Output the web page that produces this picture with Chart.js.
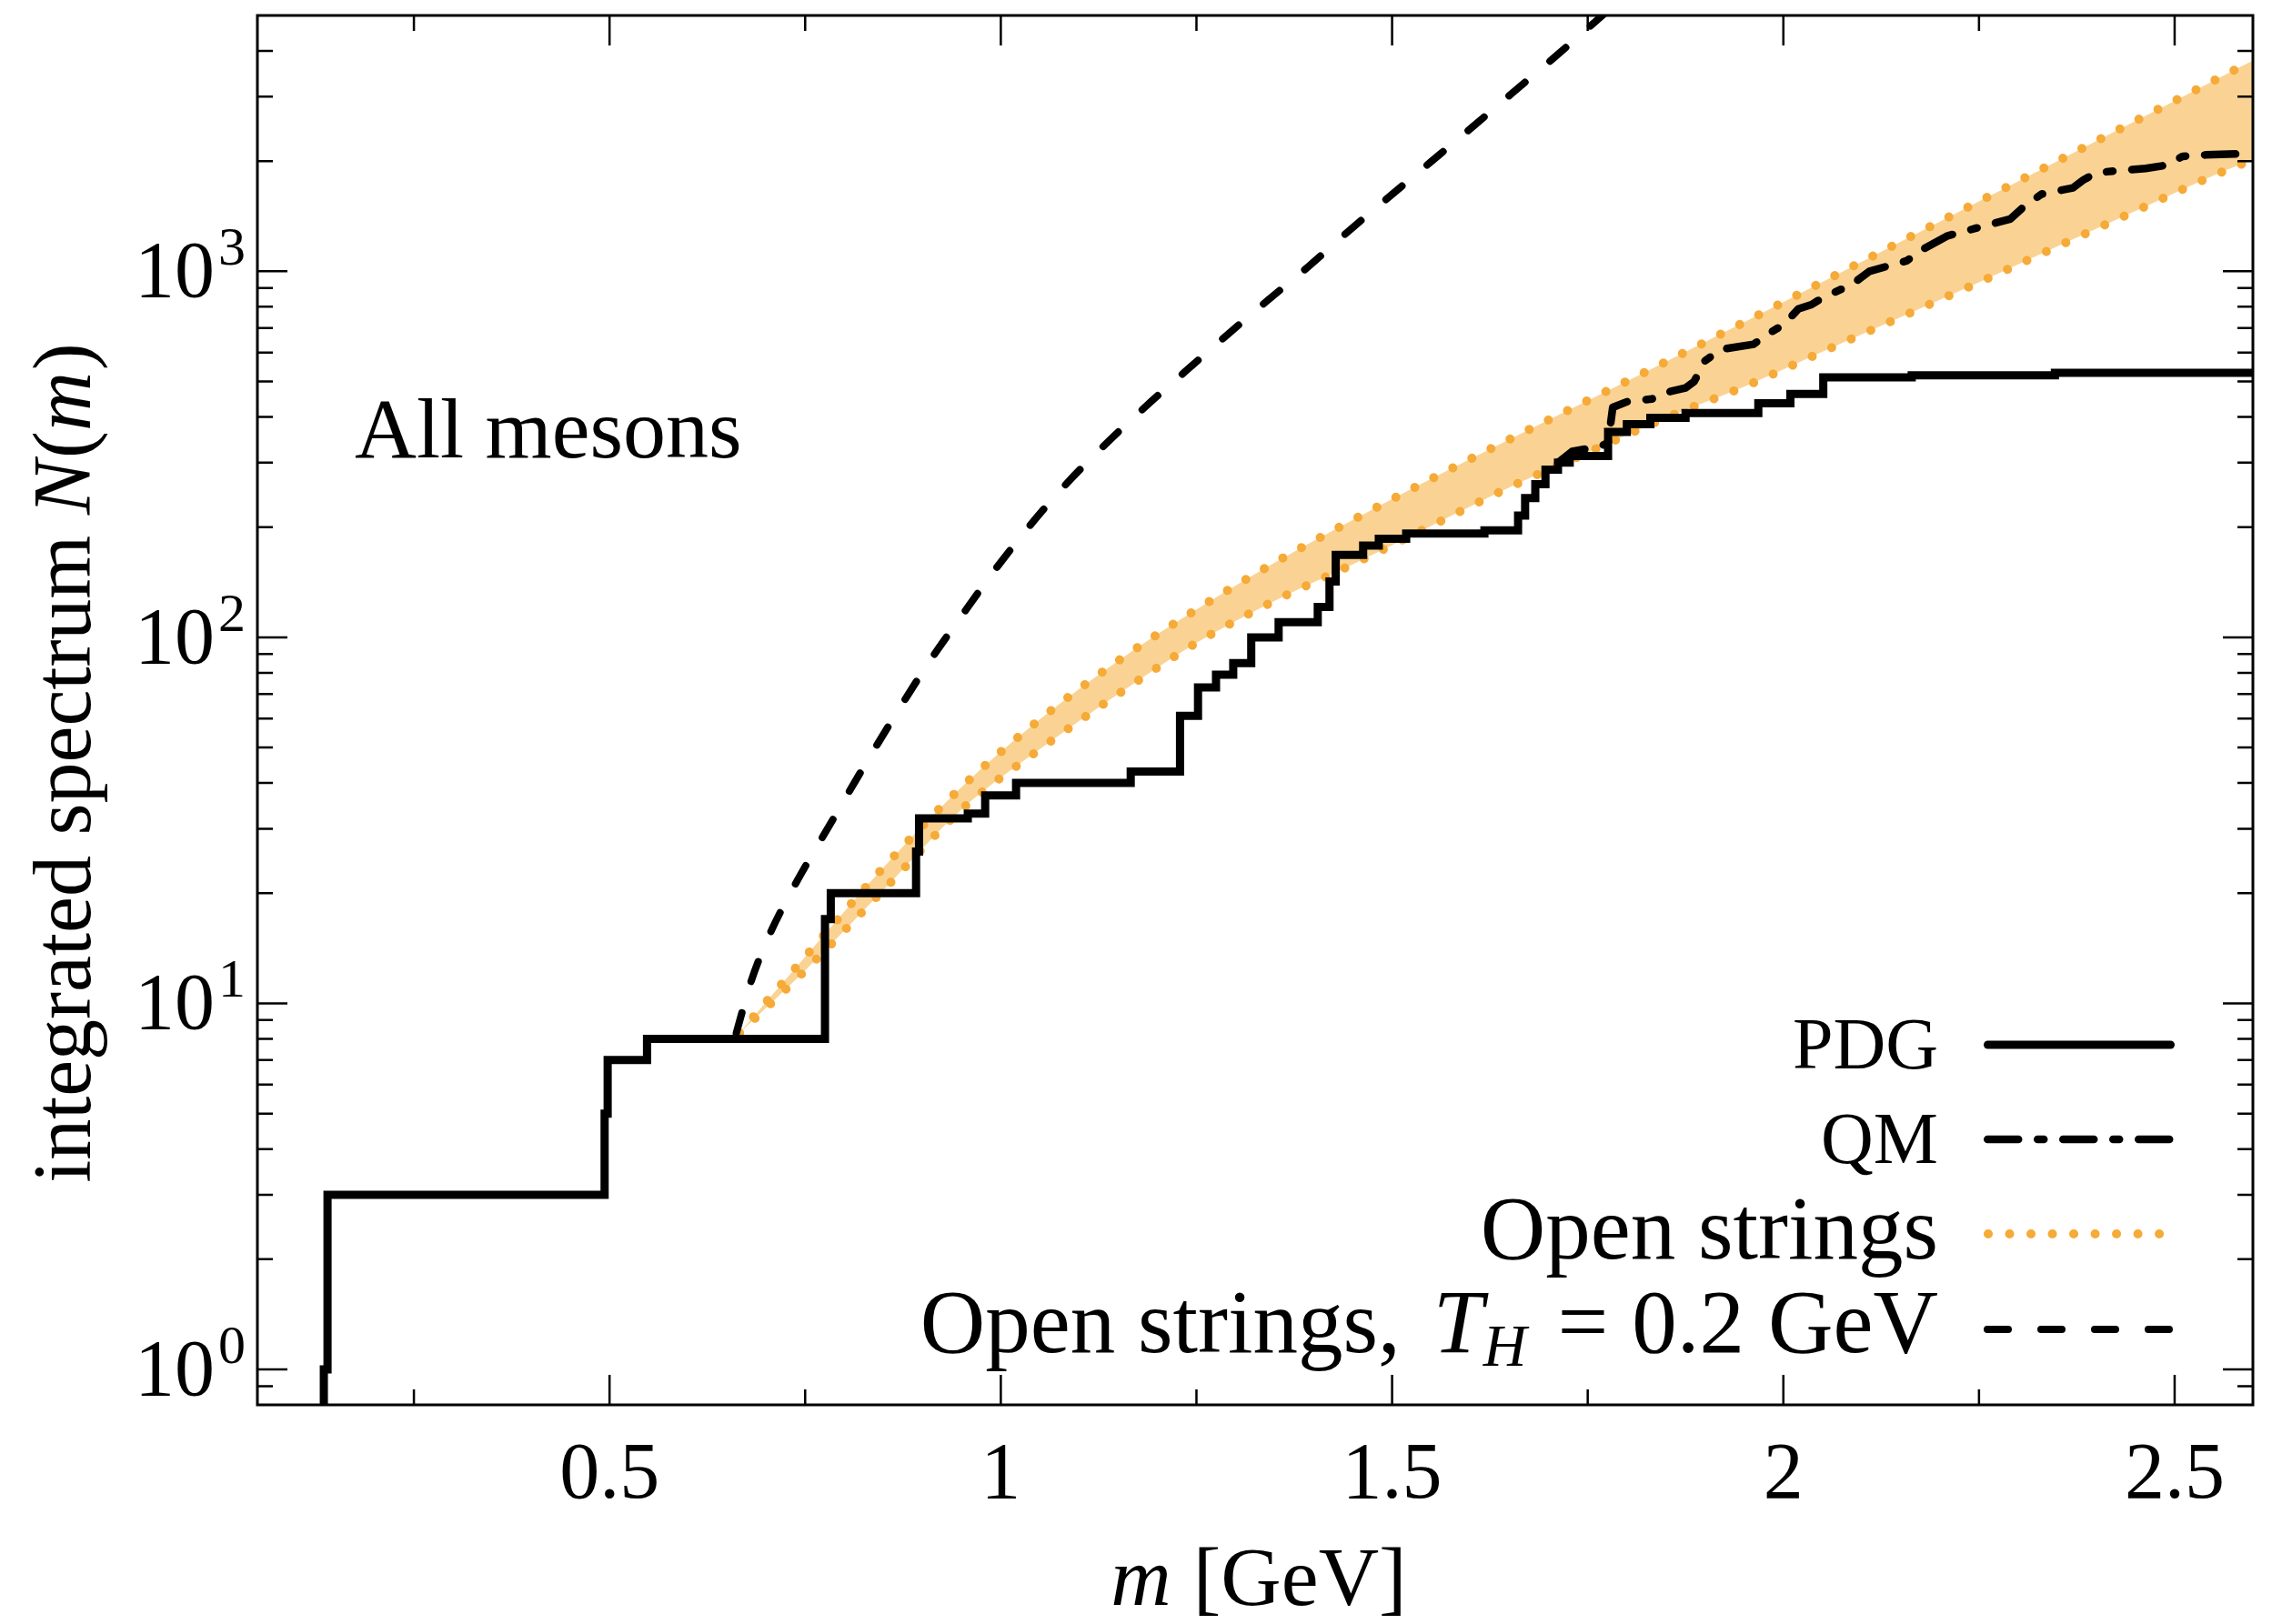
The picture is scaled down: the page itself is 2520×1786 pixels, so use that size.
<!DOCTYPE html>
<html>
<head>
<meta charset="utf-8">
<script src="https://cdn.jsdelivr.net/npm/chart.js@4.4.1/dist/chart.umd.min.js"></script>
<style>
  html, body { margin: 0; padding: 0; background: #ffffff; }
  #wrap { width: 2520px; height: 1786px; position: relative; }
</style>
</head>
<body>
<div id="wrap"><canvas id="c" width="2520" height="1786"></canvas></div>
<script>
// ---- axes ----
const massRange = [0.05, 2.6];          // GeV
const countRange = [0.8, 5000];
const xMajorTicks = [0.5, 1, 1.5, 2, 2.5];
const xTickLabels = ['0.5', '1', '1.5', '2', '2.5'];
const xMinorTicks = [0.25, 0.75, 1.25, 1.75, 2.25];
const yMajorTicks = [1, 10, 100, 1000];
const yTickExponents = ['0', '1', '2', '3'];
const yMinorMantissas = [2, 3, 4, 5, 6, 7, 8, 9];

// ---- PDG: cumulative number of states (value holds from each mass upward) ----
const pdgMass  = [0.1349, 0.1396, 0.4937, 0.4976, 0.5479, 0.7753, 0.7827, 0.8917, 0.8955, 0.9578,
                  0.980, 1.0195, 1.166, 1.229, 1.252, 1.275, 1.297, 1.320, 1.355, 1.405,
                  1.420, 1.428, 1.463, 1.483, 1.518, 1.618, 1.661, 1.670, 1.683, 1.696,
                  1.712, 1.727, 1.776, 1.800, 1.830, 1.875, 1.968, 2.009, 2.051, 2.164,
                  2.347, 2.600];
const pdgCount = [1, 3, 5, 7, 8, 17, 20, 26, 32, 33,
                  37, 40, 43, 61, 73, 79, 85, 100, 110, 121,
                  142, 168, 178, 186, 192, 196, 215, 240, 262, 287,
                  300, 313, 364, 382, 398, 410, 436, 462, 513, 520,
                  528, 528];

// ---- quark model ----
const qmMass  = [1.712, 1.730, 1.765, 1.776, 1.782, 1.800, 1.832, 1.856, 1.875, 1.886,
                 1.900, 1.921, 1.962, 1.981, 2.001, 2.019, 2.036, 2.051, 2.087, 2.110,
                 2.158, 2.176, 2.210, 2.250, 2.290, 2.307, 2.330, 2.370, 2.383, 2.400,
                 2.440, 2.463, 2.490, 2.510, 2.540, 2.585, 2.600];
const qmCount = [300, 322, 332, 340, 425, 440, 448, 470, 480, 500,
                 570, 612, 632, 676, 716, 789, 811, 849, 919, 1000,
                 1069, 1142, 1250, 1318, 1390, 1500, 1625, 1690, 1774, 1860,
                 1893, 1910, 1950, 2061, 2080, 2095, 2143];

// ---- open strings: band edges ----
const bandMass  = [0.666, 0.75, 0.85, 0.95, 1.05, 1.15, 1.25, 1.35, 1.45, 1.55,
                   1.65, 1.75, 1.85, 1.95, 2.05, 2.15, 2.25, 2.35, 2.45, 2.55, 2.60];
const bandUpper = [8.3, 13.4, 23.5, 39.0, 59.7, 86.3, 119.1, 160.0, 209.4, 271.0,
                   347.5, 443.6, 566.2, 726.1, 935.4, 1205, 1552, 2000, 2576, 3319, 3767];
const bandLower = [8.3, 12.3, 20.4, 33.9, 49.5, 70.0, 96.6, 125.9, 158.5, 201.8,
                   257, 320, 398, 484, 603, 750, 933, 1169, 1462, 1828, 2018];

// ---- open strings with T_H = 0.2 GeV ----
const hagMass  = [0.662, 0.681, 0.705, 0.736, 0.782, 0.840, 0.906, 0.952, 0.991, 1.037,
                  1.084, 1.130, 1.185, 1.235, 1.286, 1.339, 1.393, 1.442, 1.496, 1.549,
                  1.603, 1.653, 1.706, 1.765, 1.790];
const hagCount = [8.3, 11.5, 15.5, 20.9, 30.9, 50.1, 84.1, 116.1, 151.4, 201.8,
                  263, 331, 427, 531, 661, 826, 1030, 1274, 1596, 1986,
                  2483, 3062, 3819, 4920, 5495];

// ---- styling ----
const SERIF = '"Liberation Serif", "DejaVu Serif", serif';
const dotColor = '#F6AA37';
const bandFill = '#FAD394';

const toPoints = (xs, ys) => xs.map((x, i) => ({ x: x, y: ys[i] }));

function fontStr(size, italic) {
  return (italic ? 'italic ' : '') + size + 'px ' + SERIF;
}

// draws a run of text pieces; align 'left' | 'right' | 'center'
function drawRun(ctx, parts, x, y, align) {
  let total = 0;
  parts.forEach((p, i) => {
    ctx.font = fontStr(p.size, p.italic);
    p.w = ctx.measureText(p.t).width;
    total += p.w + (i < parts.length - 1 ? (p.gap || 0) : 0);
  });
  let cx = align === 'right' ? x - total : align === 'center' ? x - total / 2 : x;
  parts.forEach(p => {
    ctx.font = fontStr(p.size, p.italic);
    ctx.fillText(p.t, cx, y + (p.dy || 0));
    cx += p.w + (p.gap || 0);
  });
}

const decorations = {
  id: 'decorations',
  afterDraw(chart) {
    const { ctx, chartArea: a, scales } = chart;
    const xs = scales.x, ys = scales.y;
    ctx.save();
    ctx.strokeStyle = '#000';
    ctx.fillStyle = '#000';
    ctx.lineCap = 'butt';

    // inward ticks on all four sides
    ctx.lineWidth = 2.5;
    ctx.beginPath();
    const xTick = (v, len) => {
      const p = xs.getPixelForValue(v);
      ctx.moveTo(p, a.bottom); ctx.lineTo(p, a.bottom - len);
      ctx.moveTo(p, a.top);    ctx.lineTo(p, a.top + len);
    };
    const yTick = (v, len) => {
      const p = ys.getPixelForValue(v);
      ctx.moveTo(a.left, p);  ctx.lineTo(a.left + len, p);
      ctx.moveTo(a.right, p); ctx.lineTo(a.right - len, p);
    };
    xMajorTicks.forEach(v => xTick(v, 33));
    xMinorTicks.forEach(v => xTick(v, 17));
    yMajorTicks.forEach(v => yTick(v, 33));
    [0.1].concat(yMajorTicks).forEach(d => {
      yMinorMantissas.forEach(k => {
        const v = k * d;
        if (v > countRange[0] * 1.001 && v < countRange[1] * 0.999) yTick(v, 17);
      });
    });
    ctx.stroke();

    // frame
    ctx.lineWidth = 3;
    ctx.strokeRect(a.left, a.top, a.right - a.left, a.bottom - a.top);

    // x tick labels
    ctx.textBaseline = 'alphabetic';
    ctx.textAlign = 'center';
    ctx.font = fontStr(88, false);
    xMajorTicks.forEach((v, i) => {
      ctx.fillText(xTickLabels[i], xs.getPixelForValue(v), a.bottom + 102);
    });

    // y tick labels: 10^n
    ctx.textAlign = 'left';
    yMajorTicks.forEach((v, i) => {
      const p = ys.getPixelForValue(v);
      ctx.font = fontStr(60, false);
      const ew = ctx.measureText(yTickExponents[i]).width;
      const expLeft = a.left - 13 - ew;
      ctx.fillText(yTickExponents[i], expLeft, p - 7);
      ctx.font = fontStr(88, false);
      const bw = ctx.measureText('10').width;
      ctx.fillText('10', expLeft - 4 - bw, p + 28);
    });

    // x title
    drawRun(ctx, [
      { t: 'm', size: 92, italic: true, gap: 24 },
      { t: '[GeV]', size: 92 }
    ], (a.left + a.right) / 2 + 4, 1765, 'center');

    // y title (rotated)
    ctx.save();
    ctx.translate(99, 839);
    ctx.rotate(-Math.PI / 2);
    drawRun(ctx, [
      { t: 'integrated spectrum ', size: 90 },
      { t: 'N', size: 90, italic: true, gap: 2 },
      { t: '(', size: 90 },
      { t: 'm', size: 90, italic: true, gap: 2 },
      { t: ')', size: 90 }
    ], 0, 0, 'center');
    ctx.restore();

    // panel caption
    drawRun(ctx, [{ t: 'All mesons', size: 94 }], 390, 503, 'left');

    // legend
    const ds = chart.data.datasets;
    const textRight = 2131, lineL = 2181, lineR = 2391;
    const rows = [
      { ds: ds[0], lineY: 1149, base: 1175, parts: [{ t: 'PDG', size: 80 }], cap: 'round' },
      { ds: ds[1], lineY: 1253, base: 1279, parts: [{ t: 'QM', size: 80 }] },
      { ds: ds[3], lineY: 1357, base: 1384, parts: [{ t: 'Open strings', size: 99 }] },
      { ds: ds[2], lineY: 1462, base: 1487, parts: [
          { t: 'Open strings,', size: 99, gap: 36 },
          { t: 'T', size: 99, italic: true },
          { t: 'H', size: 66, italic: true, dy: 15, gap: 34 },
          { t: '=', size: 99, gap: 26 },
          { t: '0.2', size: 99, gap: 26 },
          { t: 'GeV', size: 99 }
        ] }
    ];
    rows.forEach(r => {
      ctx.textAlign = 'left';
      drawRun(ctx, r.parts, textRight, r.base, 'right');
      ctx.save();
      ctx.strokeStyle = r.ds.borderColor;
      ctx.lineWidth = r.ds.borderWidth;
      ctx.lineCap = r.cap || r.ds.borderCapStyle || 'butt';
      ctx.setLineDash(r.ds.borderDash || []);
      const inset = ctx.lineCap === 'round' ? r.ds.borderWidth / 2 : 0;
      ctx.beginPath();
      ctx.moveTo(lineL + inset, r.lineY);
      ctx.lineTo(lineR - inset, r.lineY);
      ctx.stroke();
      ctx.restore();
    });

    ctx.restore();
  }
};

function build() {
  const pdgPoints = [{ x: pdgMass[0], y: countRange[0] }].concat(toPoints(pdgMass, pdgCount));
  new Chart(document.getElementById('c'), {
    type: 'line',
    data: {
      datasets: [
        { label: 'PDG', data: pdgPoints, borderColor: '#000000', borderWidth: 9,
          stepped: true, borderJoinStyle: 'miter', borderCapStyle: 'butt',
          pointRadius: 0, fill: false },
        { label: 'QM', data: toPoints(qmMass, qmCount), borderColor: '#000000', borderWidth: 8.5,
          borderDash: [34, 21, 7, 21], borderCapStyle: 'round', borderJoinStyle: 'round',
          pointRadius: 0, fill: false },
        { label: 'Open strings, T_H = 0.2 GeV', data: toPoints(hagMass, hagCount), borderColor: '#000000',
          borderWidth: 8, borderDash: [23, 36], borderCapStyle: 'round',
          cubicInterpolationMode: 'monotone', pointRadius: 0, fill: false },
        { label: 'Open strings', data: toPoints(bandMass, bandUpper), borderColor: dotColor,
          borderWidth: 10, borderDash: [0.01, 23.5], borderCapStyle: 'round',
          cubicInterpolationMode: 'monotone', pointRadius: 0,
          fill: { target: 4 }, backgroundColor: bandFill },
        { label: 'Open strings (lower edge)', data: toPoints(bandMass, bandLower), borderColor: dotColor,
          borderWidth: 10, borderDash: [0.01, 23.5], borderCapStyle: 'round',
          cubicInterpolationMode: 'monotone', pointRadius: 0, fill: false }
      ]
    },
    options: {
      responsive: false,
      animation: false,
      devicePixelRatio: 1,
      layout: { padding: { left: 283, top: 17, right: 43, bottom: 241 } },
      scales: {
        x: { type: 'linear', min: massRange[0], max: massRange[1], display: false },
        y: { type: 'logarithmic', min: countRange[0], max: countRange[1], display: false }
      },
      plugins: {
        legend: { display: false },
        tooltip: { enabled: false },
        filler: { drawTime: 'beforeDatasetsDraw' }
      }
    },
    plugins: [decorations]
  });
}

if (document.fonts && document.fonts.load) {
  Promise.all([
    document.fonts.load('88px "Liberation Serif"'),
    document.fonts.load('italic 88px "Liberation Serif"')
  ]).then(build, build);
} else {
  build();
}
</script>
</body>
</html>
